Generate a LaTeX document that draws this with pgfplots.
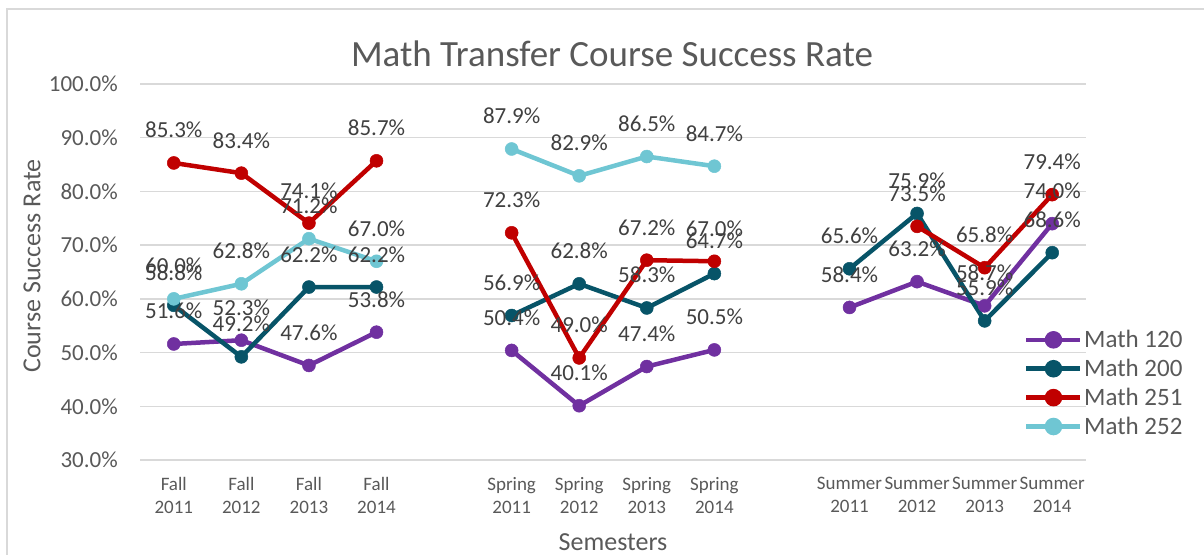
\documentclass[border=0pt]{standalone}
\usepackage{fontspec}
\setmainfont{Carlito}
\usepackage{pgfplots}
\usepackage{pgfplotstable}
\pgfplotsset{compat=1.18}
\definecolor{cA}{HTML}{7030A0}
\definecolor{cB}{HTML}{075468}
\definecolor{cC}{HTML}{C00000}
\definecolor{cD}{HTML}{6FC6D3}
\definecolor{txt}{HTML}{595959}
\definecolor{lbl}{HTML}{404040}
\definecolor{grd}{HTML}{D9D9D9}

\pgfplotstableread{
x y
0 51.6
1 52.3
2 47.6
3 53.8
4 nan
5 50.4
6 40.1
7 47.4
8 50.5
9 nan
10 58.4
11 63.2
12 58.7
13 74.0
}\mA
\pgfplotstableread{
x y
0 58.8
1 49.2
2 62.2
3 62.2
4 nan
5 56.9
6 62.8
7 58.3
8 64.7
9 nan
10 65.6
11 75.9
12 55.9
13 68.6
}\mB
\pgfplotstableread{
x y
0 85.3
1 83.4
2 74.1
3 85.7
4 nan
5 72.3
6 49.0
7 67.2
8 67.0
9 nan
11 73.5
12 65.8
13 79.4
}\mC
\pgfplotstableread{
x y
0 60.0
1 62.8
2 71.2
3 67.0
4 nan
5 87.9
6 82.9
7 86.5
8 84.7
}\mD

\pgfplotsset{
  lbls/.style={draw=none, mark=none, forget plot,
    nodes near coords={\pgfmathprintnumber[fixed,fixed zerofill,precision=1]{\pgfplotspointmeta}\%}},
}

\begin{document}
\begin{tikzpicture}[x=1pt,y=1pt]
\useasboundingbox (0,0) rectangle (1204,554);
\draw[grd, line width=1.5pt] (7,-5) -- (7,545) -- (1210,545);
\node[text=txt, font=\fontsize{37}{40}\selectfont] at (612,500) {Math Transfer Course Success Rate};
\node[text=txt, rotate=90, font=\fontsize{26}{30}\selectfont] at (32,288) {Course Success Rate};
\node[text=txt, font=\fontsize{26}{30}\selectfont] at (613,12) {Semesters};
\begin{axis}[
  at={(140pt,94pt)}, anchor=south west,
  scale only axis, width=946pt, height=376pt,
  xmin=-0.5, xmax=13.5, ymin=30, ymax=100,
  axis line style={draw=none},
  major tick length=0pt,
  ymajorgrids, grid style={grd, line width=1.5pt},
  ytick={30,40,...,100},
  /pgf/number format/assume math mode=true,
  yticklabel={\pgfmathprintnumber[fixed,fixed zerofill,precision=1]{\tick}\%},
  yticklabel style={font=\fontsize{23}{27}\selectfont, text=txt, inner sep=0pt, anchor=east, xshift=-22pt},
  xtick={0,1,2,3,5,6,7,8,10,11,12,13},
  xticklabels={{Fall\\2011},{Fall\\2012},{Fall\\2013},{Fall\\2014},{Spring\\2011},{Spring\\2012},{Spring\\2013},{Spring\\2014},{Summer\\2011},{Summer\\2012},{Summer\\2013},{Summer\\2014}},
  xticklabel style={font=\fontsize{19}{23}\selectfont, text=txt, align=center, inner sep=0pt, anchor=north, yshift=-17pt},
  unbounded coords=jump,
  clip=false,
  every axis plot/.append style={line width=4.5pt, mark=*, mark size=6.5pt},
  every node near coord/.append style={font=\fontsize{23}{27}\selectfont, text=lbl, anchor=base, yshift=25pt, inner sep=0pt},
  legend style={at={(axis description cs:0.9345,0.345)}, anchor=north west, draw=none, fill=none,
    font=\fontsize{25}{29}\selectfont, text=txt, inner sep=0pt, row sep=10.8pt, column sep=1.5pt,
    nodes={inner sep=0pt, text height=17.5pt, text depth=0pt}},
  legend cell align=left,
  legend image code/.code={
    \draw[#1, mark=none] (0pt,-0.6pt) -- (54pt,-0.6pt);
    \fill[#1] (27pt,-0.6pt) circle (6.5pt);},
]
\addplot[cA, mark options={fill=cA, draw=cA, line width=0.5pt}] table[x=x,y=y]{\mA};
\addlegendentry{Math 120}
\addplot[cB, mark options={fill=cB, draw=cB, line width=0.5pt}] table[x=x,y=y]{\mB};
\addlegendentry{Math 200}
\addplot[cC, mark options={fill=cC, draw=cC, line width=0.5pt}] table[x=x,y=y]{\mC};
\addlegendentry{Math 251}
\addplot[cD, mark options={fill=cD, draw=cD, line width=0.5pt}] table[x=x,y=y]{\mD};
\addlegendentry{Math 252}
\addplot[lbls] table[x=x,y=y]{\mA};
\addplot[lbls] table[x=x,y=y]{\mB};
\addplot[lbls] table[x=x,y=y]{\mC};
\addplot[lbls] table[x=x,y=y]{\mD};
\end{axis}
\end{tikzpicture}
\end{document}
